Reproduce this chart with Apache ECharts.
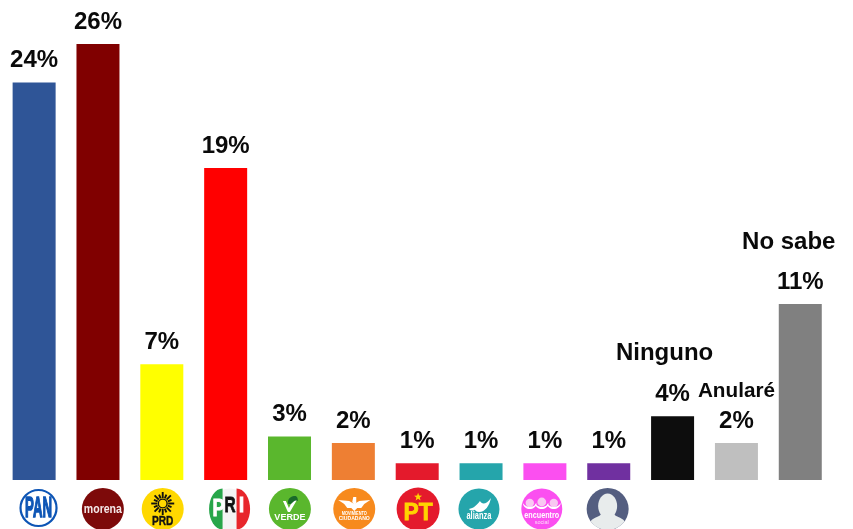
<!DOCTYPE html>
<html><head><meta charset="utf-8">
<style>html,body{margin:0;padding:0;background:#fff}#c{width:853px;height:529px}</style>
<script src="https://cdn.jsdelivr.net/npm/echarts@6/dist/echarts.min.js"></script>
</head><body><div id="c"></div>
<script>
const categories = ['PAN','morena','PRD','PRI','VERDE','Movimiento Ciudadano','PT','Nueva Alianza','Encuentro Social','Independiente','Ninguno','Anularé','No sabe'];
const barValues = [23.7,26,6.9,18.6,2.6,2.2,1,1,1,1,3.8,2.2,10.5];
const percentLabels = ['24%','26%','7%','19%','3%','2%','1%','1%','1%','1%','4%','2%','11%'];
const barColors = ['#2f5597','#800000','#ffff00','#ff0000','#5ab72d','#ee7f33','#e41a2c','#25a5ab','#fb4ff0','#7030a0','#0d0d0d','#bfbfbf','#808080'];
const optionNames = ['','','','','','','','','','','Ninguno','Anularé','No sabe'];

const FONT='"Liberation Sans",Arial,sans-serif';
const logoDx=[4.4,4.9,0.9,3.9,0.4,0.9,0.9,-2.1,-3.1,-1.1];
const nameLayout={10:{dx:-8,dy:-63,size:24},11:{dx:0,dy:-52,size:20.7},12:{dx:-11.5,dy:-62,size:24}};

function txt(x,y,text,size,fill,sx,weight,bold){
  const style={x:0,y:0,text,fill,fontSize:size,fontFamily:FONT,fontWeight:weight||'bold',align:'center',verticalAlign:'middle'};
  if(bold){style.stroke=fill;style.lineWidth=bold;}
  return {type:'text',x,y,scaleX:sx||1,style};
}
function circ(cx,cy,r,fill,extra){return {type:'circle',shape:{cx,cy,r},style:Object.assign({fill},extra||{})};}
function poly(points,fill){return {type:'polygon',shape:{points},style:{fill}};}
function curve(d,x,y,w,h,fill){return {type:'path',shape:{pathData:d,x,y,width:w,height:h,layout:'cover'},style:{fill}};}
function star(cx,cy,R){const p=[];for(let k=0;k<10;k++){const r=k%2?R*0.42:R,a=-Math.PI/2+k*Math.PI/5;p.push([cx+r*Math.cos(a),cy+r*Math.sin(a)]);}return p;}
function sun(cx,cy){
  const out=[];
  for(let k=0;k<16;k++){const a=k*Math.PI/8,l=k%2?9.5:11.5;
    out.push({type:'line',shape:{x1:cx+5.5*Math.cos(a),y1:cy+5.5*Math.sin(a),x2:cx+l*Math.cos(a),y2:cy+l*Math.sin(a)},style:{stroke:'#111',lineWidth:1.9}});}
  out.push(circ(cx,cy,4.4,'#ffd800',{stroke:'#111',lineWidth:1.4}));
  return out;
}
const SMILE='M0 0 C3 6 9 6 12 0 C11 9 1 9 0 0 Z';
const logoParts=[
 ()=>[circ(0,-1,18,'#fff',{stroke:'#0d55b5',lineWidth:2.2}),
      txt(0,0,'PAN',30,'#0d55b5',0.44,'bold',1.6)],
 ()=>[circ(0,0,21,'#7d0a0a'),txt(0,0.5,'morena',12,'#f4e9e9',0.88)],
 ()=>[circ(0,0,21,'#ffd800'),...sun(0,-5.5),txt(0,12,'PRD',13,'#111',0.78,'bold',0.4)],
 ()=>[circ(0,0,20.5,'#f4f4f4'),
      curve('M20 0 A20 20 0 0 0 20 40 Z',-20.5,-20.5,13.5,41,'#27a64a'),
      curve('M0 0 A20 20 0 0 1 0 40 Z',7,-20.5,13.5,41,'#e8262b'),
      txt(-11,1,'P',23,'#fff',0.8,'bold',0.8),txt(0.5,-3.5,'R',22,'#111',0.7,'bold',0.8),txt(12,-3,'I',22,'#fff',0.9,'bold',0.8)],
 ()=>[circ(0,0,21,'#5ab72d'),
      poly([[-7,-8],[-4,-8],[-1,-1],[3,-9],[7,-9],[0,3],[-2,3]],'#fff'),
      curve('M0 8 C0 2 6 0 10 0 C13 0 14 3 14 6 C10 4 8 7 5 9 C3 10 0 10 0 8 Z',-2,-13,10,8,'#1a6b2a'),
      txt(0,8.5,'VERDE',9.5,'#fff',0.95)],
 ()=>[circ(0,0,21,'#f78a1d'),
      poly([[-16,-9],[-5,-8],[0,-5],[5,-8],[16,-9],[10,-5],[7,-1],[3,-1],[0,2],[-3,-1],[-7,-1],[-10,-5]],'#fff'),
      poly([[-1,-12],[2,-12],[2,-6],[0,-4],[-2,-7]],'#fff'),
      txt(0,4.5,'MOVIMIENTO',4.6,'#fff',0.85),txt(0,9,'CIUDADANO',6,'#fff',0.85)],
 ()=>[circ(0,0,21.5,'#e41a2c'),poly(star(0,-12,4.2),'#ffd400'),txt(0,4,'PT',24,'#ffd400',0.95,'bold',0.8)],
 ()=>[circ(0,0,20.5,'#25a5ab'),
      curve('M0 14 C6 14 12 8 15 4 C18 9 24 8 30 0 C28 10 22 18 14 18 C10 18 8 15 8 15 C5 17 2 16 0 14 Z',-10,-11,22,14,'#fff'),
      txt(0,7,'alianza',10,'#fff',0.75)],
 ()=>[circ(0,0,20.5,'#fb4ff0'),
      circ(-12,-6,4.2,'#f8c8f2'),circ(0,-7,4.4,'#f8c8f2'),circ(12,-6,4.2,'#f8c8f2'),
      curve(SMILE,-19,-6,14,6,'#fff'),
      curve(SMILE,-7,-6,14,6,'#fff'),
      curve(SMILE,5,-6,14,6,'#fff'),
      txt(0,7,'encuentro',8.5,'#fff',0.85),txt(0,13.5,'social',5.5,'#fde0fa',1,'normal')],
 ()=>[circ(0,0,21,'#545e80'),
      {type:'ellipse',shape:{cx:0,cy:-3,rx:9.5,ry:12.5},style:{fill:'#e8ecec'}},
      curve('M-17 12 C-14 8 -7 8 -6 4 L6 4 C7 8 14 8 17 12 A21 21 0 0 1 -17 12 Z',-17,4,34,17,'#e8ecec')]
];

const chart=echarts.init(document.getElementById('c'),null,{renderer:'canvas'});
chart.setOption({
  animation:false,
  backgroundColor:'#fff',
  grid:{left:2.2,right:20.8,top:44,bottom:49,containLabel:false},
  xAxis:{type:'category',data:categories,axisLine:{show:false},axisTick:{show:false},axisLabel:{show:false},splitLine:{show:false}},
  yAxis:{type:'value',min:0,max:26,show:false},
  series:[
    {type:'bar',barWidth:43,silent:true,
     data:barValues.map((v,i)=>({value:v,itemStyle:{color:barColors[i]}})),
     label:{show:true,position:'top',distance:10,color:'#0a0a0a',fontFamily:FONT,fontWeight:'bold',fontSize:24,
            formatter:p=>percentLabels[p.dataIndex]}},
    {type:'custom',silent:true,clip:false,
     data:optionNames.map((n,i)=>[i,barValues[i],n]),
     encode:{x:0,y:1},
     renderItem:function(params,api){
       const i=api.value(0),children=[];
       const base=api.coord([i,0]),top=api.coord([i,api.value(1)]);
       const nl=nameLayout[i];
       if(nl) children.push(txt(top[0]+nl.dx,top[1]+nl.dy,optionNames[i],nl.size,'#0a0a0a'));
       if(i<logoParts.length){
         children.push({type:'group',x:base[0]+logoDx[i],y:base[1]+29,children:logoParts[i]()});
       }
       return {type:'group',children};
     }}
  ]
});
</script></body></html>
